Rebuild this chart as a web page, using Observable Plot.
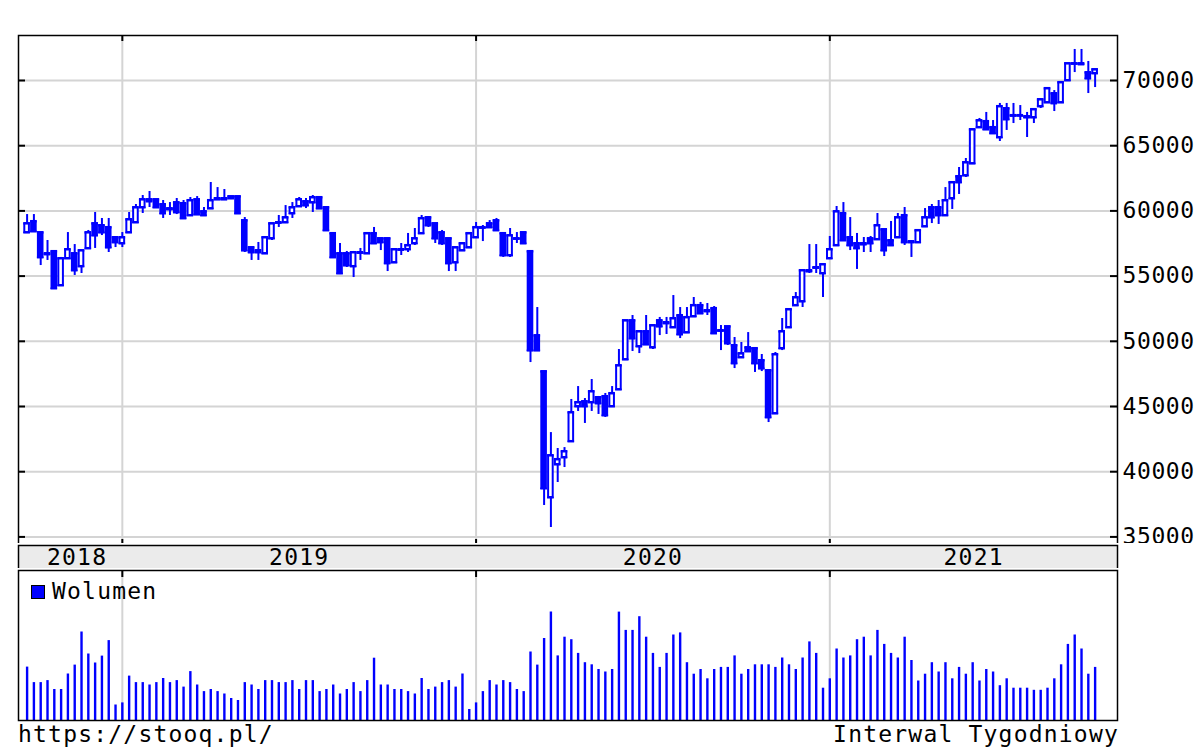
<!DOCTYPE html>
<html><head><meta charset="utf-8">
<script src="https://cdn.jsdelivr.net/npm/d3@7"></script>
<script src="https://cdn.jsdelivr.net/npm/@observablehq/plot@0.6"></script>
<style>
body{margin:0;background:#fff;}
#wrap{position:relative;width:1200px;height:750px;overflow:hidden;font-family:"DejaVu Sans Mono",monospace;color:#000;background:#fff;}
.t{position:absolute;font-size:23px;line-height:24px;letter-spacing:1.2px;white-space:pre;}
.p{position:absolute;left:0;}
#legsq{position:absolute;left:31px;top:585px;width:12px;height:12px;background:#0000ff;border:1px solid #000;}
</style></head><body>
<div id="wrap">
<div class="t" style="left:18px;top:3px">WIG - 3 lata</div>
<div class="t" style="left:427px;top:3px">30 Wrz 2021 17:09 CEST</div>
<div class="t" style="right:81px;top:3px">(C)Stooq</div>
<div class="p" id="main" style="top:0px"></div>
<div class="p" id="band" style="top:543px"></div>
<div class="p" id="vol" style="top:568px"></div>
<div id="legsq"></div>
<div class="t" style="left:52px;top:579px">Wolumen</div>
<div class="t" style="left:18px;top:722px">https://stooq.pl/</div>
<div class="t" style="right:81px;top:722px">Interwal Tygodniowy</div>
</div>
<script>
// Weekly WIG candles, first week ending 2018-09-28
const firstFriday = "2018-09-28";
const open = [58340,59190,58340,56730,56890,54280,56350,56730,55740,57120,
59030,58880,58730,57960,57500,58340,59110,60260,60720,60870,
60490,60180,60640,60570,59650,60870,59950,60180,60870,60950,
61100,61100,59260,57190,56960,56730,57880,59110,59110,59800,
60340,60720,60640,61030,60260,58270,56730,56730,55740,56810,
56730,58270,57880,57880,56040,57040,57040,57500,58270,59490,
59030,58340,57880,56040,56960,57190,57960,58730,59030,59260,
58270,56580,57880,58340,56890,50440,47680,38020,40550,41090,
42320,45000,45380,45310,45690,45770,45000,46300,48600,51590,
49600,50750,49520,51590,51440,51060,51980,50670,51900,52750,
52360,52520,50830,51130,49680,48760,49520,49450,48530,47760,
44460,49450,51060,52750,53050,55430,55660,55200,56350,57350,
59800,57960,57500,57420,57880,57810,58570,57730,57960,59650,
57650,57580,58800,60260,60260,59650,60950,62640,62710,63630,
66400,66860,66400,65630,67850,67320,67320,67240,67160,68010,
68310,69000,68310,70000,71300,71300,70610,70540];
const high = [59720,59720,58340,57730,56960,56430,58340,57420,56960,58500,
59880,59420,59420,57960,58340,59880,60490,61180,61490,60870,
60800,60640,60950,60800,61030,61100,60260,62180,61790,61640,
61100,61100,59490,57190,57580,57960,59030,59650,60410,60640,
61030,60950,61180,61100,60260,58270,57500,56890,56890,57120,
58270,58730,57880,57880,57040,57500,58270,58650,59650,59570,
59030,58500,57880,57190,57500,58270,59110,58880,59260,59420,
58270,58650,58340,58340,56890,52590,47680,43000,41780,41850,
45540,46530,45610,47070,45770,46000,46530,49370,51590,51980,
50750,51980,51210,51830,51830,53510,52590,52590,53360,52980,
52900,52670,51210,51130,50290,49910,50670,49450,48990,47760,
49140,51750,52440,53740,55430,57420,57420,55890,58040,60340,
60640,59490,58270,57960,58040,59800,58570,59190,59800,60260,
57730,58500,60180,60490,60800,61790,62180,63330,64020,66240,
67090,67550,66930,68240,68240,68240,68080,67550,67850,68620,
69390,69230,69850,71300,72380,72380,71460,70840];
const low = [58340,58420,55810,56200,54050,54280,56350,55050,55200,57120,
57120,58110,56810,57190,57190,58340,59110,59800,60260,60260,
59420,59650,59720,59420,59650,59720,59650,60180,60800,60800,
60870,59800,56810,56200,56200,56730,57730,58730,59030,59420,
60340,60180,59880,60180,58500,56430,55120,55660,54890,56200,
56730,57500,56960,55350,55970,56580,56810,57350,58270,58730,
57500,57350,55350,55350,56960,57190,57960,57650,58650,58500,
56430,56430,57500,57500,48370,49290,37410,35720,39170,40320,
42320,44620,43700,44620,44390,44160,45000,46300,48600,49220,
49060,49750,49370,50440,50520,51060,50210,50670,51900,52060,
51980,50600,49290,49680,47910,48760,49140,47610,47680,43770,
44460,49290,51060,52750,52590,55200,55200,53360,56350,57350,
57730,56960,55510,56810,56810,57810,56500,57350,57960,57350,
56430,57580,58800,59030,58960,59650,60110,61260,62560,63630,
66400,66240,65860,65320,66170,66700,66930,65630,66700,67850,
68310,67620,68310,70000,70610,71150,69000,69460];
const close = [59030,58420,56430,56660,54050,56350,57040,55430,56960,58340,
58110,58340,57190,57580,57960,59340,60260,60870,60870,60260,
59800,60110,59880,59420,60800,59720,59650,60800,60950,60870,
60950,59800,56960,56810,56810,57960,59030,59080,59490,60260,
60870,60410,61030,60180,58500,56430,55200,55810,56810,56780,
58270,57500,57580,55970,57040,57010,57350,57880,59420,58880,
57880,57500,55970,57190,57500,58270,58730,58700,58730,58500,
56580,58110,57850,57500,49290,49290,38710,41240,40940,41550,
44540,45310,45000,46150,45230,44310,46000,48140,51590,50210,
50750,49750,51210,51130,51370,51750,50520,51830,52750,52130,
52290,50600,50800,49830,48300,49060,49220,48300,47910,44160,
48990,50750,52440,53360,55430,55350,55630,55890,57040,59950,
57730,57350,57120,57500,57500,58880,56960,57350,59490,57580,
57580,58500,59490,59490,59650,60800,62180,62180,63710,66240,
66930,66240,65940,68010,67010,67290,67300,67160,67780,68540,
69390,68240,69850,71300,71280,71230,70150,70840];
// relative weekly turnover
const volume = [53.4,37.9,37.9,39.9,31.0,31.0,46.5,55.4,88.5,66.5,
57.5,64.4,79.9,15.5,17.6,44.4,37.9,37.9,35.5,37.9,
42.0,37.9,39.9,33.4,48.9,35.5,28.9,31.0,28.9,26.5,
22.0,20.0,37.9,35.5,31.0,39.9,39.9,37.9,37.9,39.9,
31.0,39.9,39.9,28.9,31.0,35.5,26.5,31.0,37.9,28.9,
39.9,62.3,35.5,35.5,31.0,31.0,28.9,26.5,42.0,31.0,
33.4,37.9,39.9,33.4,46.5,11.0,17.6,28.9,39.9,35.5,
39.9,37.9,31.0,28.9,68.5,55.4,82.0,108.5,
64.6,83.3,80.8,67.1,57.8,55.7,51.0,48.5,51.0,108.4,
90.1,90.1,103.8,83.3,67.1,53.1,67.1,85.5,87.6,57.8,
46.3,51.0,41.7,51.0,53.1,53.1,64.6,46.3,51.0,55.7,
55.7,55.7,53.1,62.5,55.7,51.0,62.5,78.6,67.1,32.3,
41.7,71.5,62.5,64.6,80.8,83.3,64.6,90.1,76.1,67.1,
62.5,83.3,60.0,39.5,46.3,57.8,48.5,57.8,41.7,53.1,
46.3,57.8,39.5,51.0,48.5,34.8,41.7,32.3,32.3,32.3,
30.2,30.2,32.3,41.7,55.7,76.1,85.5,71.5,46.3,53.1];
const yTicks = [35000,40000,45000,50000,55000,60000,65000,70000];

const start = new Date(firstFriday + "T00:00:00Z");
const candles = open.map((o, i) => ({
  i, date: d3.utcFriday.offset(start, i), o, h: high[i], l: low[i], c: close[i], v: volume[i], up: close[i] >= o
}));
const bounds = candles.filter((d, k) => k > 0 && d.date.getUTCFullYear() !== candles[k - 1].date.getUTCFullYear()).map(d => d.i);

const W = 1200, ML = 18, MR = 83;
const xDomain = [-1.264, 160.29];
const yDomain = [34341, 73451];
const xPx = (W - ML - MR) / (xDomain[1] - xDomain[0]);
const yPx = 510 / (yDomain[1] - yDomain[0]);
const tx = 7 / xPx, ty = 6 / yPx;
const half = 2.3 / xPx, halfOuter = 3.3 / xPx;
const BLUE = "#0000ff", GRID = "#d4d4d4";
const font = {fontFamily: "'DejaVu Sans Mono', monospace", fontSize: "23px", letterSpacing: "1.2px", background: "white", overflow: "visible"};

const main = Plot.plot({
  width: W, height: 547, marginTop: 35, marginBottom: 2, marginLeft: ML, marginRight: MR,
  x: {domain: xDomain, axis: null},
  y: {domain: yDomain, axis: null},
  style: font,
  marks: [
    Plot.ruleY(yTicks, {stroke: GRID, strokeWidth: 2}),
    Plot.ruleX(bounds, {stroke: GRID, strokeWidth: 2}),
    Plot.ruleY(yTicks, {x1: xDomain[0], x2: xDomain[0] + tx, stroke: "black", strokeWidth: 2}),
    Plot.ruleY(yTicks, {x1: xDomain[1] - tx, x2: xDomain[1], stroke: "black", strokeWidth: 2}),
    Plot.ruleX(bounds, {y1: yDomain[1], y2: yDomain[1] - ty, stroke: "black", strokeWidth: 2}),
    Plot.ruleX(bounds, {y1: yDomain[0], y2: yDomain[0] + ty, stroke: "black", strokeWidth: 2}),
    Plot.ruleX(candles, {x: "i", y1: "l", y2: "h", stroke: BLUE, strokeWidth: 2}),
    Plot.rect(candles.filter(d => d.up), {x1: d => d.i - half, x2: d => d.i + half, y1: "o", y2: "c", fill: "white", stroke: BLUE, strokeWidth: 2}),
    Plot.rect(candles.filter(d => !d.up), {x1: d => d.i - half, x2: d => d.i + half, y1: "o", y2: "c", fill: BLUE, stroke: BLUE, strokeWidth: 2}),
    Plot.ruleY(candles, {x1: d => d.i - halfOuter, x2: d => d.i + halfOuter, y: "c", stroke: BLUE, strokeWidth: 2}),
    Plot.ruleY(candles, {x1: d => d.i - halfOuter, x2: d => d.i + halfOuter, y: "o", stroke: BLUE, strokeWidth: 2}),
    Plot.axisY(yTicks, {anchor: "right", tickSize: 0, tickPadding: 5, tickFormat: d => String(d), fill: "black", style: {letterSpacing: "0.6px"}}),
    Plot.frame({stroke: "black", strokeWidth: 1.5})
  ]
});
main.querySelectorAll("g[aria-label='y-axis tick label'] text, g[aria-label='y-axis tick label']").forEach(el => el.style.letterSpacing = "0.6px");
document.getElementById("main").appendChild(main);

const edges = [0.7, ...bounds, xDomain[1]];
const yearLabels = edges.slice(0, -1).map((e, k) => ({
  x: (e + edges[k + 1]) / 2,
  year: String(k === 0 ? candles[0].date.getUTCFullYear() : candles[bounds[k - 1]].date.getUTCFullYear())
}));

const band = Plot.plot({
  width: W, height: 30, marginTop: 2, marginBottom: 3, marginLeft: ML, marginRight: MR,
  x: {domain: xDomain, axis: null},
  y: {domain: [0, 1], axis: null},
  style: font,
  marks: [
    Plot.frame({fill: "#ebebeb", stroke: "black", strokeWidth: 1.5}),
    Plot.text(yearLabels, {x: "x", y: 0.5, text: "year", fill: "black", fontSize: 23})
  ]
});
document.getElementById("band").appendChild(band);

const vol = Plot.plot({
  width: W, height: 155, marginTop: 2, marginBottom: 3, marginLeft: ML, marginRight: MR,
  x: {domain: xDomain, axis: null},
  y: {domain: [0, 150], axis: null},
  style: font,
  marks: [
    Plot.ruleX(bounds, {stroke: GRID, strokeWidth: 2}),
    Plot.ruleX(bounds, {y1: 150, y2: 143, stroke: "black", strokeWidth: 2}),
    Plot.ruleX(candles, {x: "i", y1: 0, y2: "v", stroke: BLUE, strokeWidth: 2.4}),
    Plot.frame({stroke: "black", strokeWidth: 1.5})
  ]
});
document.getElementById("vol").appendChild(vol);
</script>
</body></html>
